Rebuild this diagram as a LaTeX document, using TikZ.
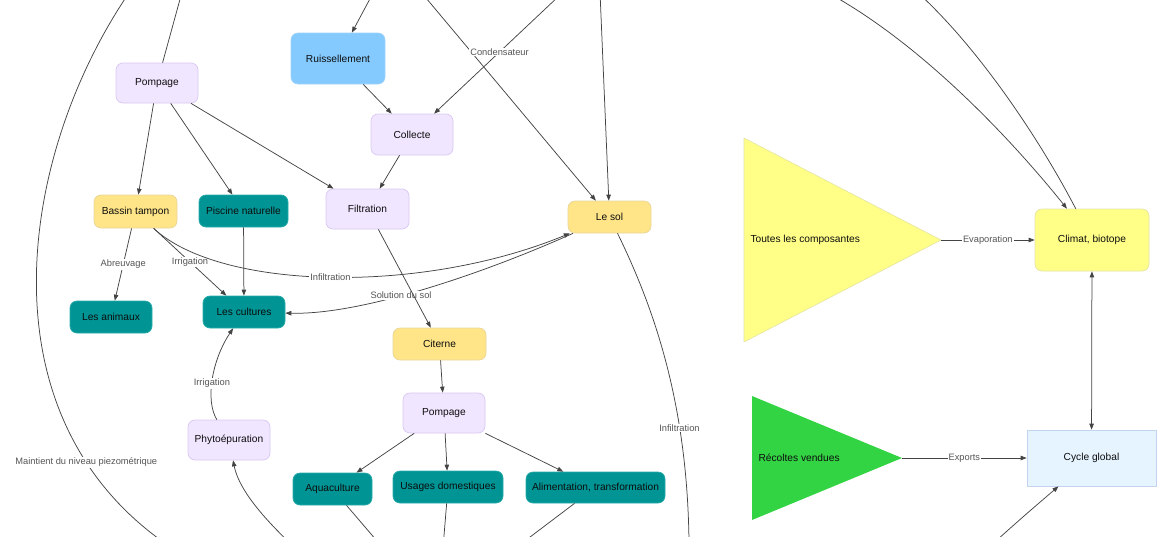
\documentclass[tikz,border=0pt]{standalone}
\usepackage{fontspec}
\setmainfont{Liberation Sans}
\usetikzlibrary{arrows.meta}
\definecolor{lavfill}{HTML}{F1E6FF}
\definecolor{lavline}{HTML}{D9C8F2}
\definecolor{goldfill}{HTML}{FFE588}
\definecolor{goldline}{HTML}{E8D59A}
\definecolor{tealfill}{HTML}{009494}
\definecolor{tealline}{HTML}{2AABAB}
\definecolor{skyfill}{HTML}{84CAFF}
\definecolor{skyline}{HTML}{9DD3FA}
\definecolor{climfill}{HTML}{FFFF88}
\definecolor{climline}{HTML}{E4E4A4}
\definecolor{cyclefill}{HTML}{E6F4FF}
\definecolor{cycleline}{HTML}{C4D4EE}
\definecolor{harvest}{HTML}{33D444}
\definecolor{linkgray}{HTML}{444444}
\definecolor{lblgray}{HTML}{555555}
\begin{document}
\begin{tikzpicture}[x=1pt,y=-1pt,
    box/.style={rounded corners=7pt, draw, line width=0.7pt, minimum height=32pt,
      inner sep=2pt, font=\fontsize{10.2}{12}\selectfont, text=black!95},
    lavbox/.style={box, fill=lavfill, draw=lavline, minimum height=40pt, minimum width=82pt},
    goldbox/.style={box, fill=goldfill, draw=goldline},
    tealbox/.style={box, fill=tealfill, draw=tealline},
    lbl/.style={fill=white, inner sep=1pt, font=\fontsize{9.3}{11}\selectfont, text=lblgray},
    link/.style={draw=linkgray, line width=0.75pt, -{Triangle[length=6pt,width=4.5pt]}}]
      \useasboundingbox (0,0) rectangle (1170,536);
      \clip (0,0) rectangle (1170,536);
      \fill[climfill, draw=climline, line width=0.6pt] (744,138) -- (941,240) -- (744,342) -- cycle;
      \fill[harvest] (752,396) -- (902,458) -- (752,520) -- cycle;
      \coordinate (toutestip) at (941,240);
      \coordinate (recoltip) at (902,458);
      \node[box, fill=skyfill, draw=skyline, minimum width=94pt, minimum height=51pt] (ruiss) at (338,58.5) {Ruissellement};
      \node[lavbox] (pomp1) at (157,83) {Pompage};
      \node[lavbox, minimum height=41pt] (collecte) at (412,134.5) {Collecte};
      \node[goldbox, minimum width=83pt, minimum height=33pt] (bassin) at (135.5,211.5) {Bassin tampon};
      \node[tealbox, minimum width=89pt] (piscine) at (243.5,211) {Piscine naturelle};
      \node[lavbox, minimum width=83pt] (filtr) at (367.5,209) {Filtration};
      \node[goldbox, minimum width=83pt] (lesol) at (609.5,217) {Le sol};
      \node[tealbox, minimum width=82pt] (animaux) at (111,317) {Les animaux};
      \node[tealbox, minimum width=82pt] (cultures) at (244,312) {Les cultures};
      \node[goldbox, minimum width=93pt] (citerne) at (439.5,344) {Citerne};
      \node[lavbox] (pomp2) at (444,413) {Pompage};
      \node[lavbox] (phyto) at (229,440) {Phytoépuration};
      \node[tealbox, minimum width=79pt] (aqua) at (332.5,489) {Aquaculture};
      \node[tealbox, minimum width=110pt] (usages) at (448,487) {Usages domestiques};
      \node[tealbox, minimum width=139pt, minimum height=31pt] (alim) at (595.5,487.5) {Alimentation, transformation};
      \node[box, fill=climfill, draw=climline, minimum width=114pt, minimum height=62pt] (climat) at (1092,240) {Climat, biotope};
      \node[box, rounded corners=0pt, fill=cyclefill, draw=cycleline, minimum width=129pt, minimum height=56pt] (cycle) at (1091.5,458) {Cycle global};
      \node[anchor=west, font=\fontsize{10.2}{12}\selectfont, text=black!95] (toutes) at (747,240) {Toutes les composantes};
      \node[anchor=west, font=\fontsize{10.2}{12}\selectfont, text=black!95] (recoltes) at (755,458) {Récoltes vendues};
      \coordinate (c1) at (131,-10);
      \coordinate (c2) at (175,550);
      \coordinate (c3) at (372,-5);
      \coordinate (c4) at (182,-8);
      \coordinate (c5) at (421,-8);
      \coordinate (c6) at (560,-5);
      \coordinate (c7) at (600,-8);
      \coordinate (c8) at (395,562);
      \coordinate (c9) at (442,560);
      \coordinate (c10) at (497,562);
      \coordinate (c11) at (292,545);
      \coordinate (c12) at (689,565);
      \coordinate (c13) at (832,-5);
      \coordinate (c14) at (915,-10);
      \coordinate (c15) at (988,548);
      \begin{scope}[link]
        \draw[-] (c1) .. controls (20,150) and (-25,420) .. node[lbl, pos=0.81] (lniveau) {Maintient du niveau piezométrique} (c2);
        \draw (c3) -- (ruiss);
        \draw (pomp1) -- (c4);
        \draw (c5) -- (lesol);
        \draw (c6) -- node[lbl, pos=0.48] (lcond) {Condensateur} (collecte);
        \draw (c7) -- (lesol);
        \draw (ruiss) -- (collecte);
        \draw (collecte) -- (filtr);
        \draw (pomp1) -- (bassin);
        \draw (pomp1) -- (piscine);
        \draw (pomp1) -- (filtr);
        \draw (bassin) -- node[lbl] (labreuv) {Abreuvage} (animaux);
        \draw (bassin) -- node[lbl] (lirrig1) {Irrigation} (cultures);
        \draw (bassin) .. controls (220,290) and (420,295) .. node[lbl, pos=0.5] (linfil1) {Infiltration} (lesol);
        \draw (piscine) -- (cultures);
        \draw (lesol) .. controls (480,275) and (360,315) .. node[lbl, pos=0.57] (lsolution) {Solution du sol} (cultures);
        \draw (filtr) -- (citerne);
        \draw (citerne) -- (pomp2);
        \draw (pomp2) -- (aqua);
        \draw (pomp2) -- (usages);
        \draw (pomp2) -- (alim);
        \draw (aqua) -- (c8);
        \draw (usages) -- (c9);
        \draw (alim) -- (c10);
        \draw (c11) .. controls (255,510) and (238,485) .. (phyto);
        \draw (phyto) .. controls (205,400) and (212,360) .. node[lbl, pos=0.45] (lirrig2) {Irrigation} (cultures);
        \draw (lesol) .. controls (660,320) and (690,420) .. node[lbl, pos=0.65] (linfil2) {Infiltration} (c12);
        \draw (c13) .. controls (930,50) and (1020,150) .. (climat);
        \draw (climat) .. controls (1040,140) and (980,50) .. (c14);
        \draw (toutestip) -- node[lbl] (levap) {Evaporation} (climat);
        \draw[{Triangle[length=6pt,width=4.5pt]}-{Triangle[length=6pt,width=4.5pt]}] (climat) -- (cycle);
        \draw (recoltip) -- node[lbl] (lexports) {Exports} (cycle);
        \draw (c15) .. controls (1025,515) .. (cycle);
      \end{scope}
    \end{tikzpicture}
\end{document}
